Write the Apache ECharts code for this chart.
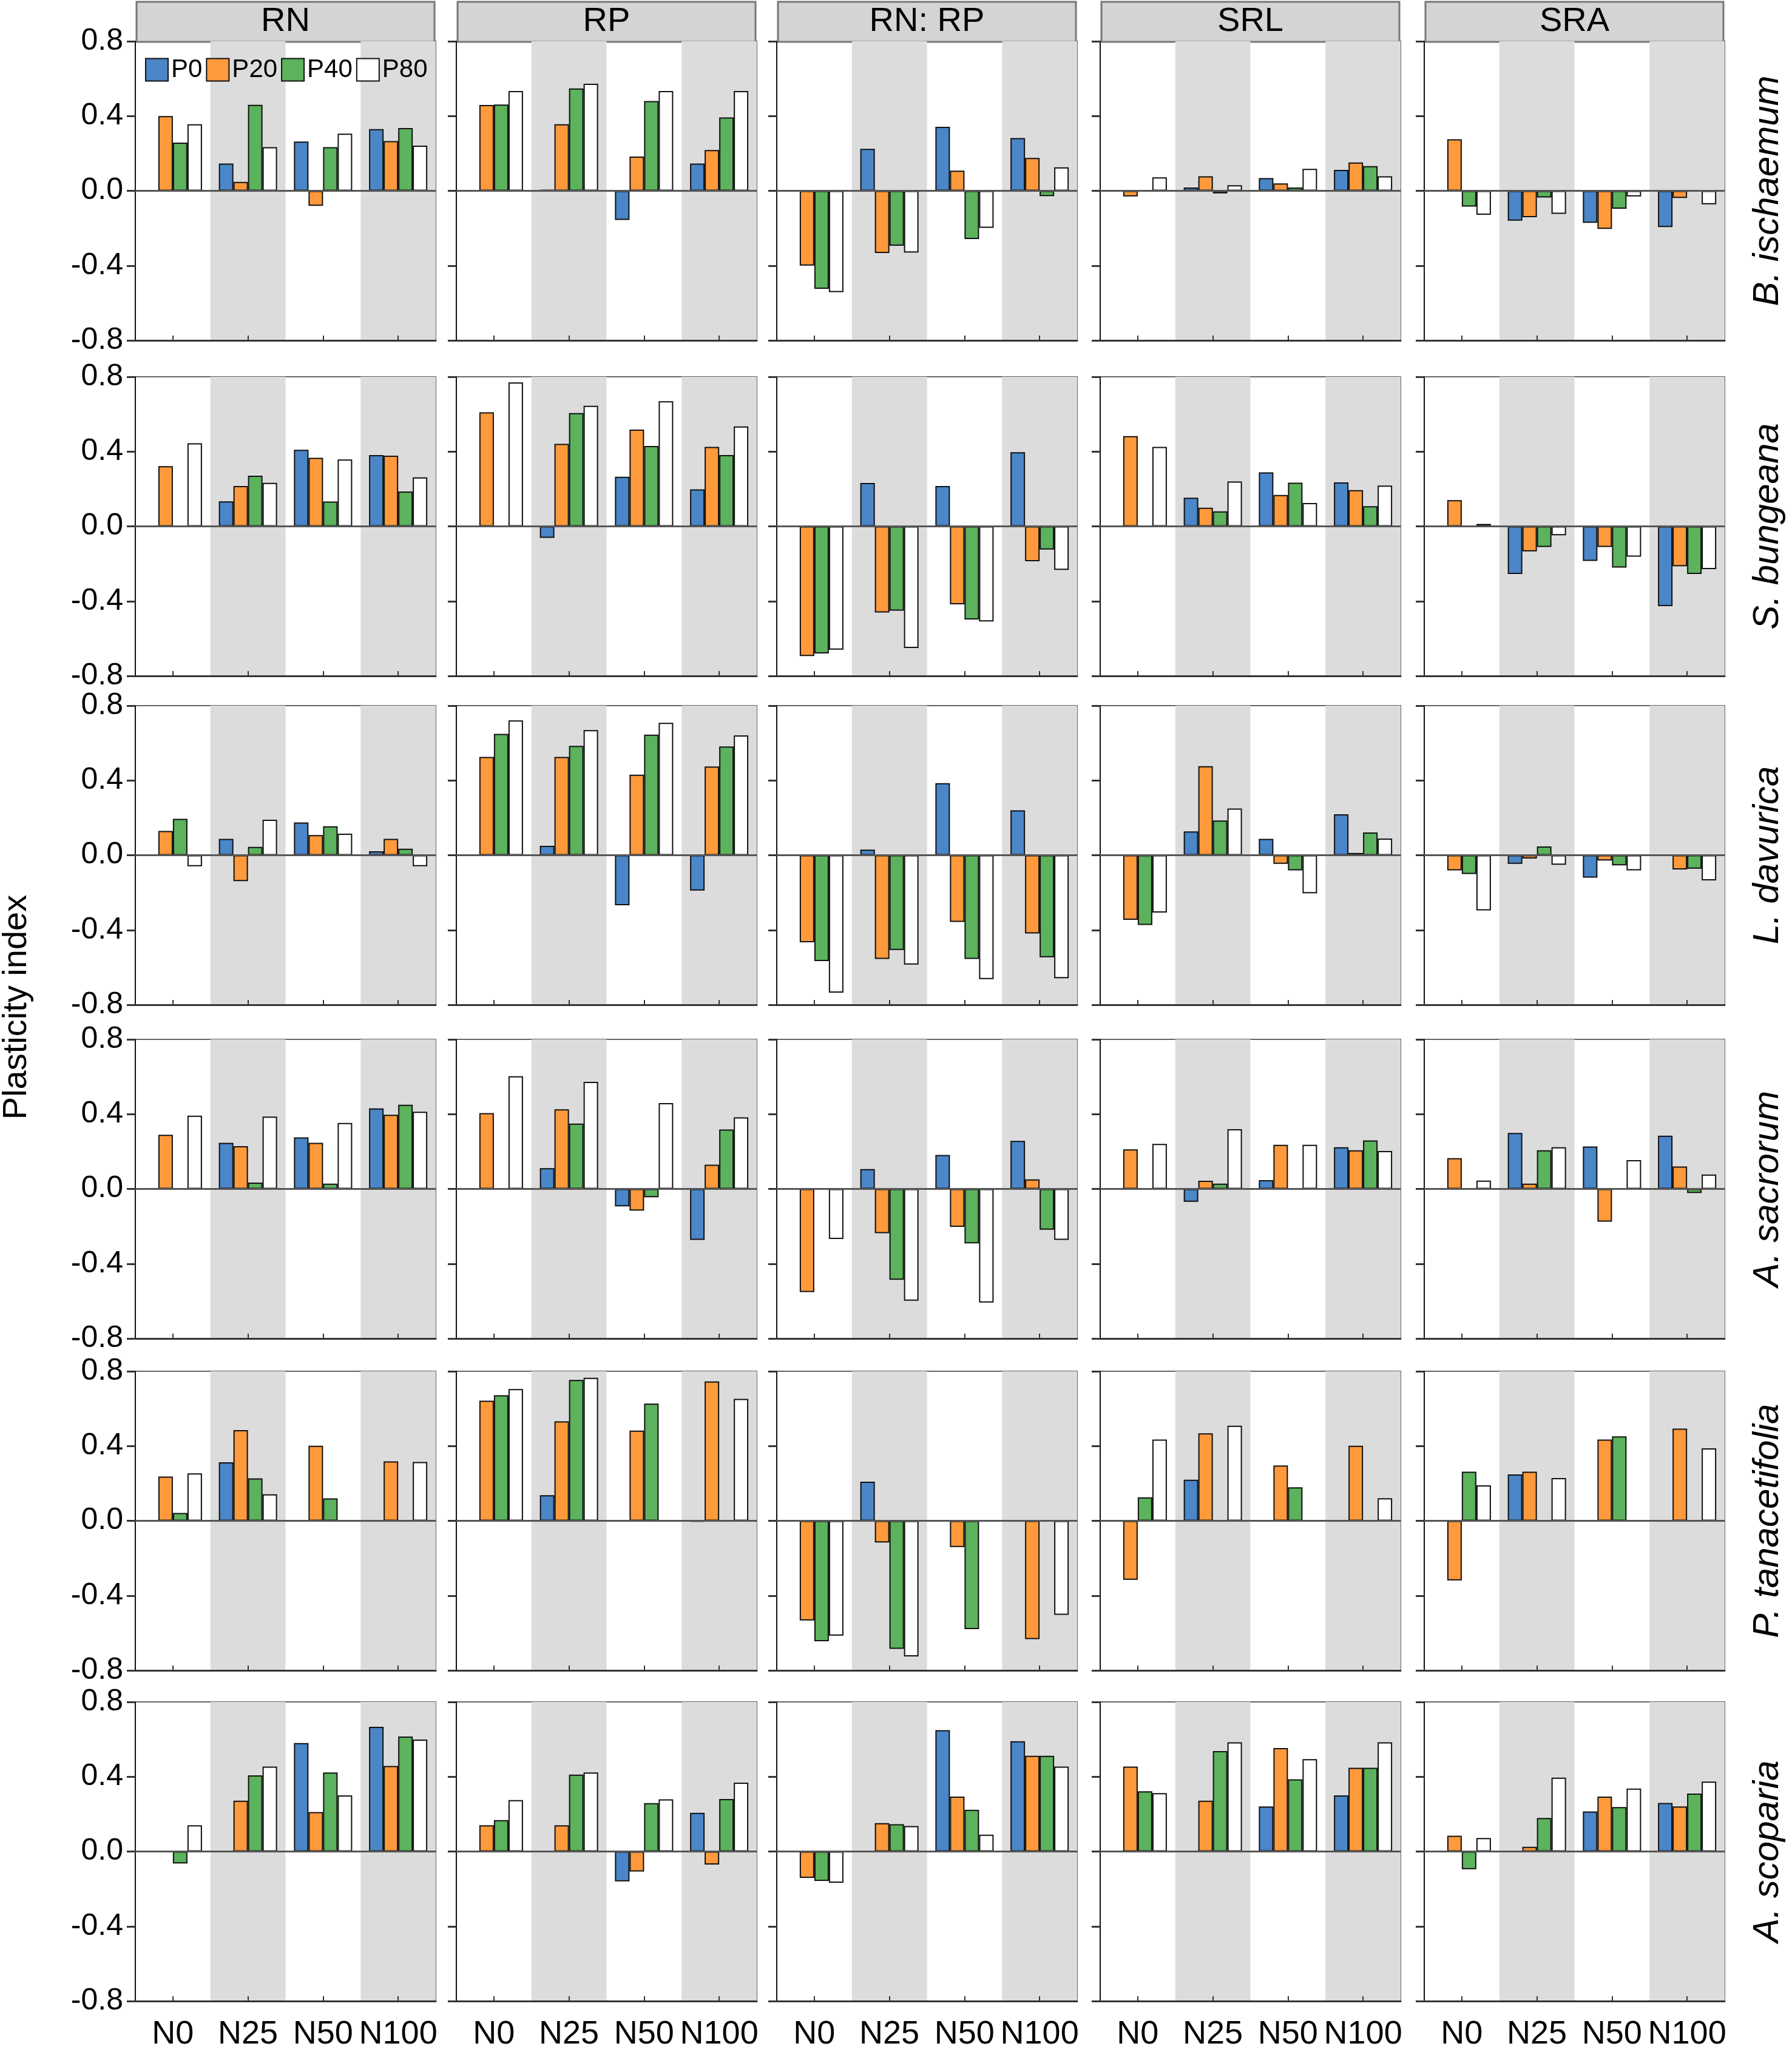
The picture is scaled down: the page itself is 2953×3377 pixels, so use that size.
<!DOCTYPE html>
<html>
<head>
<meta charset="utf-8">
<title>Plasticity index</title>
<script src="https://cdn.jsdelivr.net/npm/echarts/dist/echarts.min.js"></script>
<style>
    html, body { margin: 0; padding: 0; background: #fff; }
    #main { width: 2953px; height: 3377px; }
</style>
</head>
<body>
<div id="main"></div>
<script>
var traits = ['RN', 'RP', 'RN: RP', 'SRL', 'SRA'];
var speciesNames = ['B. ischaemum', 'S. bungeana', 'L. davurica', 'A. sacrorum', 'P. tanacetifolia', 'A. scoparia'];
var nLevels = ['N0', 'N25', 'N50', 'N100'];
var pLevels = ['P0', 'P20', 'P40', 'P80'];

// one line per trait (RN, RP, RN: RP, SRL, SRA); each line = [P0, P20, P40, P80], values over N0..N100
var bIschaemum = [
    [[0, 0.146, 0.264, 0.33], [0.40, 0.048, -0.08, 0.266], [0.258, 0.46, 0.234, 0.336], [0.356, 0.234, 0.306, 0.242]],
    [[0, 0.006, -0.156, 0.146], [0.459, 0.356, 0.183, 0.218], [0.462, 0.548, 0.48, 0.393], [0.534, 0.573, 0.534, 0.534]],
    [[0, 0.225, 0.342, 0.282], [-0.40, -0.333, 0.108, 0.176], [-0.524, -0.294, -0.258, -0.028], [-0.542, -0.33, -0.198, 0.126]],
    [[0, 0.018, 0.068, 0.112], [-0.03, 0.078, 0.04, 0.152], [0, -0.014, 0.018, 0.132], [0.072, 0.03, 0.118, 0.078]],
    [[0, -0.16, -0.171, -0.194], [0.276, -0.141, -0.204, -0.038], [-0.084, -0.036, -0.096, 0], [-0.128, -0.123, -0.03, -0.072]]
];
var sBungeana = [
    [[0, 0.134, 0.41, 0.381], [0.322, 0.216, 0.367, 0.378], [0, 0.271, 0.133, 0.187], [0.445, 0.233, 0.358, 0.262]],
    [[0, -0.062, 0.265, 0.198], [0.61, 0.441, 0.518, 0.425], [0, 0.606, 0.43, 0.381], [0.77, 0.645, 0.669, 0.535]],
    [[0, 0.232, 0.216, 0.397], [-0.694, -0.461, -0.417, -0.187], [-0.68, -0.451, -0.498, -0.124], [-0.66, -0.651, -0.509, -0.233]],
    [[0, 0.153, 0.289, 0.235], [0.483, 0.10, 0.168, 0.194], [0, 0.08, 0.234, 0.108], [0.425, 0.24, 0.125, 0.218]],
    [[0, -0.255, -0.185, -0.427], [0.14, -0.134, -0.11, -0.213], [0, -0.11, -0.221, -0.255], [0.013, -0.048, -0.162, -0.229]]
];
var lDavurica = [
    [[0, 0.088, 0.175, 0.021], [0.13, -0.139, 0.108, 0.088], [0.195, 0.045, 0.155, 0.035], [-0.059, 0.19, 0.115, -0.059]],
    [[0, 0.05, -0.268, -0.189], [0.526, 0.526, 0.431, 0.475], [0.649, 0.585, 0.645, 0.582], [0.721, 0.669, 0.708, 0.641]],
    [[0, 0.03, 0.385, 0.24], [-0.466, -0.555, -0.357, -0.419], [-0.566, -0.507, -0.555, -0.546], [-0.735, -0.585, -0.663, -0.658]],
    [[0, 0.127, 0.088, 0.219], [-0.346, 0.476, -0.046, 0.012], [-0.373, 0.186, -0.081, 0.122], [-0.307, 0.25, -0.204, 0.089]],
    [[0, -0.046, -0.12, 0], [-0.081, -0.018, -0.028, -0.076], [-0.101, 0.047, -0.054, -0.072], [-0.295, -0.051, -0.081, -0.135]]
];
var aSacrorum = [
    [[0, 0.247, 0.276, 0.431], [0.29, 0.229, 0.247, 0.397], [0, 0.034, 0.028, 0.45], [0.392, 0.387, 0.353, 0.413]],
    [[0, 0.111, -0.093, -0.273], [0.406, 0.426, -0.116, 0.13], [0, 0.35, -0.045, 0.318], [0.603, 0.573, 0.459, 0.383]],
    [[0, 0.106, 0.182, 0.257], [-0.552, -0.237, -0.203, 0.051], [0, -0.486, -0.291, -0.218], [-0.268, -0.598, -0.608, -0.273]],
    [[0, -0.069, 0.047, 0.223], [0.212, 0.044, 0.236, 0.207], [0, 0.028, 0, 0.26], [0.241, 0.32, 0.236, 0.203]],
    [[0, 0.299, 0.227, 0.285], [0.165, 0.028, -0.175, 0.12], [0, 0.207, 0, -0.022], [0.045, 0.223, 0.154, 0.077]]
];
var pTanacetifolia = [
    [[0, 0.313, 0, 0], [0.237, 0.485, 0.402, 0.318], [0.042, 0.227, 0.12, 0], [0.254, 0.142, 0, 0.315]],
    [[0, 0.137, 0, -0.005], [0.643, 0.532, 0.483, 0.746], [0.672, 0.754, 0.627, 0], [0.705, 0.765, 0, 0.652]],
    [[0, 0.209, 0, 0], [-0.533, -0.116, -0.14, -0.633], [-0.644, -0.685, -0.579, 0], [-0.614, -0.725, 0, -0.503]],
    [[0, 0.22, 0, 0], [-0.316, 0.468, 0.296, 0.402], [0.126, 0, 0.179, 0], [0.435, 0.509, 0, 0.121]],
    [[0, 0.248, 0, 0], [-0.319, 0.263, 0.435, 0.493], [0.263, 0, 0.452, 0], [0.19, 0.229, 0, 0.388]]
];
var aScoparia = [
    [[0, 0, 0.58, 0.667], [0, 0.272, 0.211, 0.458], [-0.064, 0.407, 0.423, 0.615], [0.14, 0.454, 0.30, 0.599]],
    [[0, 0, -0.16, 0.207], [0.14, 0.14, -0.107, -0.07], [0.168, 0.411, 0.259, 0.281], [0.275, 0.423, 0.279, 0.368]],
    [[0, 0, 0.649, 0.59], [-0.141, 0.152, 0.294, 0.512], [-0.157, 0.146, 0.223, 0.512], [-0.167, 0.136, 0.09, 0.454]],
    [[0, 0, 0.241, 0.30], [0.454, 0.272, 0.553, 0.448], [0.322, 0.537, 0.386, 0.448], [0.312, 0.584, 0.494, 0.584]],
    [[0, 0, 0.214, 0.26], [0.084, 0.025, 0.294, 0.241], [-0.095, 0.179, 0.238, 0.31], [0.072, 0.395, 0.337, 0.374]]
];
var speciesData = [bIschaemum, sBungeana, lDavurica, aSacrorum, pTanacetifolia, aScoparia];

// colours for P0, P20, P40, P80
var pColors = ['#4a86c8', '#ff9a3c', '#5cb25d', '#ffffff'];

// panel layout (pixels)
var panelLeft = [223, 752, 1280, 1813, 2347];
var panelTop = [68, 621, 1163, 1713, 2260, 2805];
var panelW = 495;
var panelH = 493;
var fontName = '"Liberation Sans", Arial, sans-serif';

init_panels();

function init_panels() {
    var chart = echarts.init(document.getElementById('main'), null, {renderer: 'canvas'});
    var grids = [], xAxes = [], yAxes = [], series = [], graphics = [];

    for (var r = 0; r < speciesNames.length; r++) {
        for (var c = 0; c < traits.length; c++) {
            var idx = r * traits.length + c;
            grids.push({
                left: panelLeft[c], top: panelTop[r], width: panelW, height: panelH,
                show: true, borderColor: '#666', borderWidth: 2,
                outerBoundsMode: 'none'
            });
            xAxes.push({
                type: 'category', gridIndex: idx, data: nLevels, position: 'bottom',
                axisLine: {onZero: false, lineStyle: {color: '#333', width: 3}},
                axisTick: {show: true, inside: true, interval: 0, alignWithLabel: true, length: 8, lineStyle: {color: '#333', width: 2}},
                axisLabel: {show: r === speciesNames.length - 1, interval: 0, hideOverlap: false, fontSize: 54, color: '#000', margin: 28, fontFamily: fontName},
                splitLine: {show: false},
                // shaded N25 and N100 columns
                splitArea: {show: true, interval: 0, areaStyle: {color: ['rgba(0,0,0,0)', '#dcdcdc']}}
            });
            yAxes.push({
                type: 'value', gridIndex: idx, min: -0.8, max: 0.8, interval: 0.4,
                axisLine: {show: true, lineStyle: {color: '#111', width: 2}},
                axisTick: {show: true, length: 14, lineStyle: {color: '#333', width: 3}},
                axisLabel: {
                    show: c === 0, fontSize: 50, color: '#000', margin: 20, fontFamily: fontName,
                    formatter: function (v) { return v.toFixed(1); }
                },
                splitLine: {show: false}
            });
            for (var s = 0; s < pLevels.length; s++) {
                var one = {
                    type: 'bar', name: pLevels[s],
                    xAxisIndex: idx, yAxisIndex: idx,
                    data: speciesData[r][c][s],
                    barWidth: 24, barGap: '0%',
                    itemStyle: {color: pColors[s], borderColor: '#111', borderWidth: 2},
                    silent: true
                };
                if (s === 0) {
                    // zero line
                    one.markLine = {
                        silent: true, symbol: ['none', 'none'], label: {show: false},
                        lineStyle: {color: '#555', width: 3, type: 'solid'},
                        data: [{yAxis: 0}]
                    };
                }
                series.push(one);
            }
        }
    }

    // trait headers on the top row
    for (var h = 0; h < traits.length; h++) {
        graphics.push({
            type: 'rect',
            shape: {x: panelLeft[h] + 2, y: 3, width: panelW - 4, height: 66},
            style: {fill: '#d4d4d4', stroke: '#777', lineWidth: 3}
        });
        graphics.push({
            type: 'text',
            x: panelLeft[h] + panelW / 2, y: 36,
            style: {text: traits[h], fontSize: 56, fontFamily: fontName, fill: '#000', textAlign: 'center', textVerticalAlign: 'middle'}
        });
    }
    // species names on the right
    for (var k = 0; k < speciesNames.length; k++) {
        graphics.push({
            type: 'text',
            x: 2913, y: panelTop[k] + panelH / 2,
            rotation: Math.PI / 2,
            style: {text: speciesNames[k], fontSize: 60, fontStyle: 'italic', fontFamily: fontName, fill: '#000', textAlign: 'center', textVerticalAlign: 'middle'}
        });
    }
    // y axis title
    graphics.push({
        type: 'text',
        x: 28, y: 1660,
        rotation: Math.PI / 2,
        style: {text: 'Plasticity index', fontSize: 56, fontFamily: fontName, fill: '#000', textAlign: 'center', textVerticalAlign: 'middle'}
    });

    var option = {
        animation: false,
        backgroundColor: '#fff',
        textStyle: {fontFamily: fontName},
        legend: {
            data: pLevels, left: 234, top: 89,
            itemWidth: 37, itemHeight: 37, itemGap: 6, icon: 'rect',
            selectedMode: false,
            textStyle: {fontSize: 42, color: '#000', fontFamily: fontName}
        },
        grid: grids,
        xAxis: xAxes,
        yAxis: yAxes,
        series: series,
        graphic: graphics
    };
    chart.setOption(option);
}
</script>
</body>
</html>
